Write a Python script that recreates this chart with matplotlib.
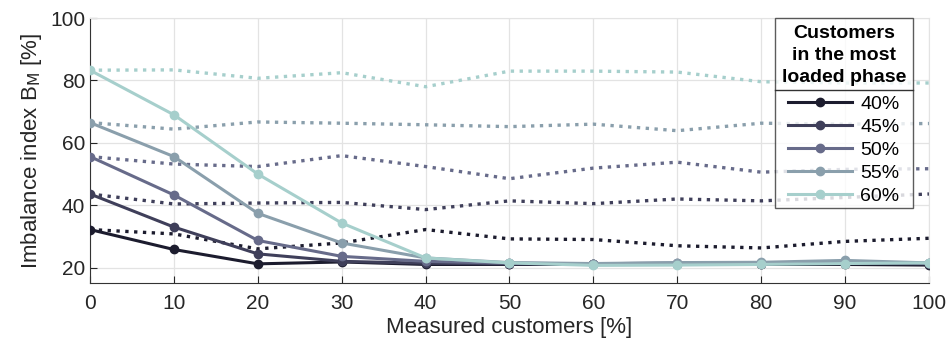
import matplotlib.pyplot as plt
import numpy as np
from matplotlib.lines import Line2D
from matplotlib.offsetbox import PaddedBox

plt.rcParams['font.family'] = ['Liberation Sans', 'DejaVu Sans']

measured = [0, 10, 20, 30, 40, 50, 60, 70, 80, 90, 100]
groups = ['40%', '45%', '50%', '55%', '60%']
colors = ['#1c1c2e', '#3f3f5a', '#676b8a', '#8a9fac', '#a6cfcc']

# solid lines with markers
bm_solid = [
    [32.2, 25.8, 21.2, 21.8, 21.0, 21.0, 21.0, 21.0, 21.0, 21.0, 20.8],
    [43.6, 33.0, 24.4, 22.0, 21.4, 21.2, 21.1, 21.3, 21.3, 21.4, 21.2],
    [55.6, 43.3, 28.7, 23.6, 22.0, 21.4, 21.2, 21.5, 21.5, 21.8, 21.4],
    [66.5, 55.6, 37.4, 27.9, 23.1, 21.6, 21.3, 21.6, 21.7, 22.3, 21.5],
    [83.3, 69.0, 50.0, 34.3, 23.1, 21.5, 20.7, 20.8, 21.0, 21.3, 21.5],
]

# dotted lines
bm_dotted = [
    [32.2, 30.8, 26.0, 27.9, 32.2, 29.2, 29.0, 27.0, 26.3, 28.4, 29.4],
    [43.6, 40.4, 40.7, 40.9, 38.6, 41.4, 40.5, 42.0, 41.4, 42.5, 43.6],
    [55.6, 53.2, 52.4, 55.9, 52.4, 48.5, 51.9, 53.8, 50.6, 51.5, 51.7],
    [66.5, 64.4, 66.7, 66.3, 65.8, 65.2, 66.0, 63.9, 66.3, 66.0, 66.2],
    [83.3, 83.4, 80.7, 82.5, 78.0, 83.0, 83.0, 82.7, 79.6, 79.2, 79.2],
]

fig, ax = plt.subplots(figsize=(9.47, 3.42), dpi=100)
fig.subplots_adjust(left=0.095, right=0.981, top=0.947, bottom=0.172)

for i in range(len(groups)):
    ax.plot(measured, bm_dotted[i], ':', color=colors[i], lw=2.4, zorder=2)
for i in range(len(groups)):
    ax.plot(measured, bm_solid[i], '-o', color=colors[i], lw=2.2, ms=6,
            label=groups[i], zorder=3)

ax.set_xlim(0, 100)
ax.set_ylim(15, 100)
ax.set_xticks(np.arange(0, 101, 10))
ax.set_yticks([20, 40, 60, 80, 100])
ax.grid(True, color='#e3e3e3', lw=0.9)
ax.set_axisbelow(True)
for s in ['top', 'right']:
    ax.spines[s].set_color('#e3e3e3')
for s in ['left', 'bottom']:
    ax.spines[s].set_color('#333333')
ax.tick_params(direction='in', length=5, labelsize=15, colors='#262626',
               top=False, right=False)
ax.tick_params(axis='x', pad=8)

ax.set_xlabel('Measured customers [%]', fontsize=16, color='#262626', labelpad=3)
ax.set_ylabel('Imbalance index B$_\\mathrm{M}$ [%]', fontsize=16, color='#262626',
              labelpad=4)

leg = ax.legend(title='Customers\nin the most\nloaded phase', loc='upper right',
                bbox_to_anchor=(0.981, 1.0), fontsize=14, handlelength=3.3,
                frameon=True, fancybox=False, edgecolor='#333333',
                labelspacing=0.28, borderaxespad=0.0, handletextpad=0.4,
                borderpad=0.15)
title = leg.get_title()
title.set_fontweight('bold')
title.set_fontsize(14)
title.set_multialignment('center')
title.set_linespacing(1.37)
leg.get_frame().set_linewidth(1.0)

# a bit of extra room round the title
title_box = leg._legend_title_box
padded = PaddedBox(title_box, pad=3)
padded.set_figure(fig)
leg._legend_box._children[0] = padded
leg._legend_box.sep = 3.6

# separator line between the legend title and its entries
fig.canvas.draw()
renderer = fig.canvas.get_renderer()
fb = leg.get_frame().get_window_extent()
tb = title_box.get_window_extent(renderer)
hb = leg._legend_handle_box.get_window_extent(renderer)
y_mid = (tb.y0 + hb.y1) / 2
inv = fig.transFigure.inverted()
x0, y_sep = inv.transform((fb.x0, y_mid))
x1, _ = inv.transform((fb.x1, y_mid))
fig.add_artist(Line2D([x0, x1], [y_sep, y_sep], color='#333333', lw=1.0,
                      transform=fig.transFigure, zorder=10))

fig.savefig('out.png', dpi=100)
